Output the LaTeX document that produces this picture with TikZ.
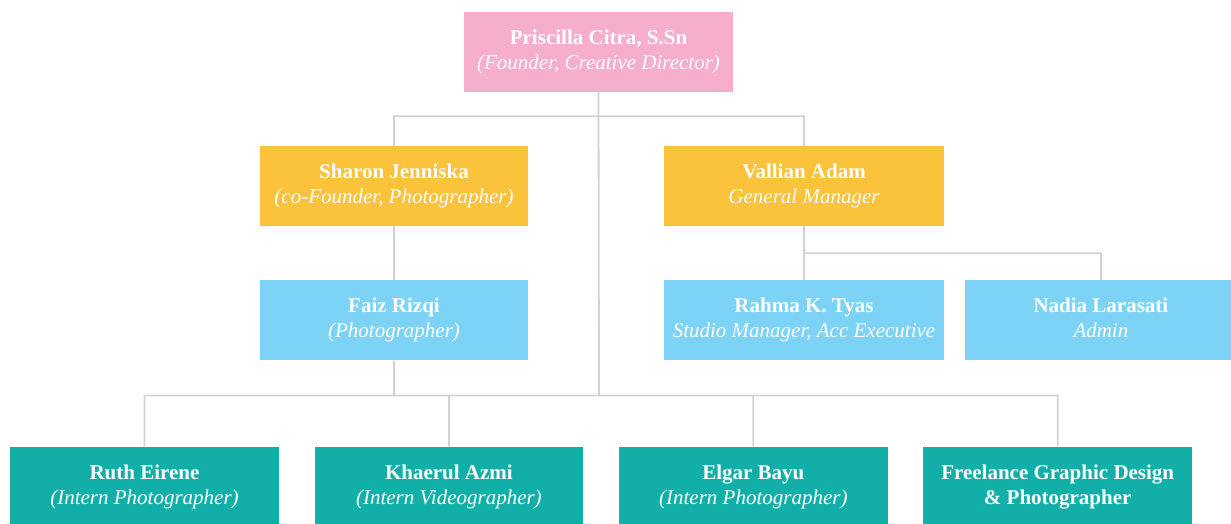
\documentclass[tikz,border=0pt]{standalone}
\usepackage{fontspec}
\setmainfont{Liberation Serif}
\usetikzlibrary{positioning}
\definecolor{founderpink}{HTML}{F6AECD}
\definecolor{leadyellow}{HTML}{FBC23B}
\definecolor{staffblue}{HTML}{7DD3F6}
\definecolor{internteal}{HTML}{12AFA8}
\definecolor{linegray}{HTML}{D2D2D2}
\def\boxw{268.5pt}
\def\boxh{80pt}
\newcommand\who[2]{\textbf{#1}\strut\\\textit{#2}\strut}
\tikzstyle{member}=[rectangle,minimum width=\boxw,minimum height=\boxh,inner sep=0pt,align=center,text=white,font=\fontsize{21}{25}\selectfont]
\tikzstyle{founder member}=[member, fill=founderpink]
\tikzstyle{lead member}=[member, fill=leadyellow]
\tikzstyle{staff member}=[member, fill=staffblue]
\tikzstyle{intern member}=[member, fill=internteal]
\tikzstyle{link}=[draw=linegray, line width=1.8pt]

\begin{document}
\begin{tikzpicture}[x=1pt,y=-1pt]
		\useasboundingbox (0,0) rectangle (1231,523);
		\clip (0,0) rectangle (1231,523);
		\node[founder member] (P) at (598.5,52) {\who{Priscilla Citra, S.Sn}{(Founder, Creative Director)}};
		\node[lead member] (S) at (394,186) {\who{Sharon Jenniska}{(co-Founder, Photographer)}};
		\node[lead member, minimum width=280pt] (V) at (804,186) {\who{Vallian Adam}{General Manager}};
		\node[staff member, below=54pt of S] (F) {\who{Faiz Rizqi}{(Photographer)}};
		\node[staff member, minimum width=280pt, below=54pt of V] (R) {\who{Rahma K. Tyas}{Studio Manager, Acc Executive}};
		\node[staff member, minimum width=271pt, right=21pt of R] (N) {\who{Nadia Larasati}{Admin}};
		\node[intern member] (Ru) at (144.5,486.5) {\who{Ruth Eirene}{(Intern Photographer)}};
		\node[intern member, right=35.5pt of Ru] (Kh) {\who{Khaerul Azmi}{(Intern Videographer)}};
		\node[intern member, right=35.5pt of Kh] (El) {\who{Elgar Bayu}{(Intern Photographer)}};
		\node[intern member, right=35.5pt of El] (Fr) {\textbf{Freelance Graphic Design}\strut\\\textbf{\& Photographer}\strut};
		\coordinate (bus) at (599,395.5);
		\path[link]
		(P.south) -- ++(0,24) -| (S.north)
		(P.south) -- ++(0,24) -| (V.north)
		(S) -- (F)
		(V) -- (R)
		(V.south) -- ++(0,27) -| (N.north)
		(F.south) -- (F.south |- bus)
		(P.south) -- (bus) -| (Ru.north)
		(bus) -| (Kh.north)
		(bus) -| (El.north)
		(bus) -| (Fr.north);
	\end{tikzpicture}
\end{document}
